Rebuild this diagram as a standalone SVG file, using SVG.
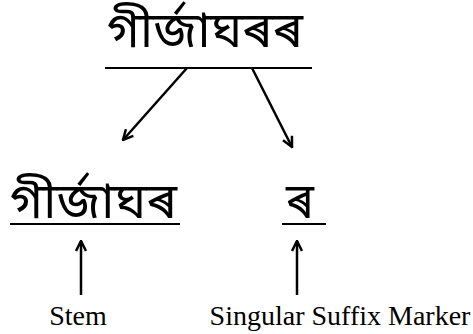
<svg xmlns="http://www.w3.org/2000/svg" width="473" height="334" viewBox="0 0 473 334">
<style>
.bn{font-family:"Noto Sans Bengali","Noto Serif Bengali","Lohit Assamese","Lohit Bengali","Noto Sans",sans-serif;font-size:50px;fill:#000}
.lb{font-family:"Liberation Serif",serif;font-size:28px;fill:#000}
.ul{stroke:#000;stroke-width:2}
.ar{stroke:#000;stroke-width:2.5;fill:none;marker-end:url(#ah)}
</style>
<defs>
<marker id="ah" viewBox="0 0 10 10" refX="9" refY="5" markerWidth="5" markerHeight="5" orient="auto" markerUnits="strokeWidth">
<path d="M1,1 L9,5 L1,9" fill="none" stroke="#000" stroke-width="2"/>
</marker>
</defs>
<g id="root">
<text class="bn" x="107" y="47" textLength="196" lengthAdjust="spacingAndGlyphs">গীৰ্জাঘৰৰ</text>
<line class="ul" x1="105" y1="68" x2="312" y2="68"/>
</g>
<g id="stem">
<text class="bn" x="10" y="218" textLength="167" lengthAdjust="spacingAndGlyphs">গীৰ্জাঘৰ</text>
<line class="ul" x1="10" y1="224" x2="180" y2="224"/>
</g>
<g id="suffix">
<text class="bn" x="286" y="218" textLength="28" lengthAdjust="spacingAndGlyphs">ৰ</text>
<line class="ul" x1="282" y1="224" x2="326" y2="224"/>
</g>
<g id="label-stem">
<text class="lb" x="78" y="325" text-anchor="middle">Stem</text>
</g>
<g id="label-suffix">
<text class="lb" x="340" y="325" text-anchor="middle">Singular Suffix Marker</text>
</g>
<g id="connectors">
<line class="ar" x1="187" y1="68" x2="123" y2="140"/>
<line class="ar" x1="252" y1="68" x2="292" y2="147"/>
<line class="ar" x1="81" y1="295" x2="81" y2="241"/>
<line class="ar" x1="297" y1="295" x2="297" y2="241"/>
</g>
</svg>
